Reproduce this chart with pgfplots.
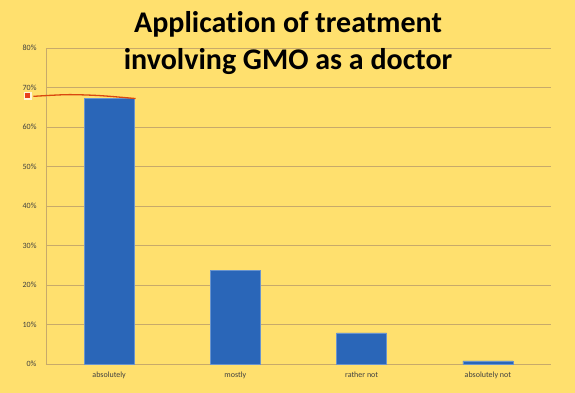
\documentclass[border=0pt]{standalone}
\usepackage{pgfplots}
\pgfplotsset{compat=1.18}
\usepackage{fontspec}
\setmainfont{Carlito}[Ligatures=NoCommon]
\definecolor{bg}{HTML}{FFE06E}
\definecolor{barc}{HTML}{2A66B8}
\definecolor{gridc}{HTML}{C8AA6A}
\definecolor{annot}{HTML}{D9480F}
\definecolor{sq}{HTML}{E8401C}
\definecolor{halo}{HTML}{FFF6D8}
\begin{document}
\begin{tikzpicture}
\fill[bg] (-46pt,-29pt) rectangle (529pt,364pt);
\begin{axis}[
  at={(0pt,0pt)}, anchor=south west,
  scale only axis, width=505pt, height=316pt,
  xmin=-0.5, xmax=3.5, ymin=0, ymax=80,
  axis lines*=left,
  axis line style={gridc, line width=0.9pt},
  ytick={0,10,...,80},
  ymajorgrids,
  major grid style={gridc, line width=0.9pt},
  xtick={0,1,2,3},
  xticklabels={absolutely, mostly, rather not, absolutely not},
  major tick length=0pt,
  ticklabel style={font=\fontsize{8}{9}\selectfont, text=black!75},
  yticklabel={\pgfmathprintnumber{\tick}\%},
  yticklabel style={xshift=-6pt},
  xticklabel style={yshift=-4pt},
  /pgf/number format/assume math mode=true,
  clip=false,
]
\addplot[ybar, bar width=50pt, fill=barc, draw=barc!70!white, line width=0.5pt]
  coordinates {(0,67.2) (1,23.7) (2,7.9) (3,0.8)};
\addplot[annot, line width=1.3pt, smooth, forget plot]
  coordinates {(-0.60,67.76) (-0.33,68.19) (-0.07,67.94) (0.21,67.2)};
\addplot[halo, only marks, mark=square*, mark size=3.3pt, forget plot]
  coordinates {(-0.646,68.0)};
\addplot[sq, only marks, mark=square*, mark size=2.1pt, forget plot]
  coordinates {(-0.646,68.0)};
\end{axis}
\node[anchor=base, font=\fontsize{30}{36}\selectfont\bfseries] at (242pt,331pt) {Application of treatment};
\node[anchor=base, font=\fontsize{30}{36}\selectfont\bfseries] at (242pt,294pt) {involving GMO as a doctor};
\end{tikzpicture}
\end{document}
